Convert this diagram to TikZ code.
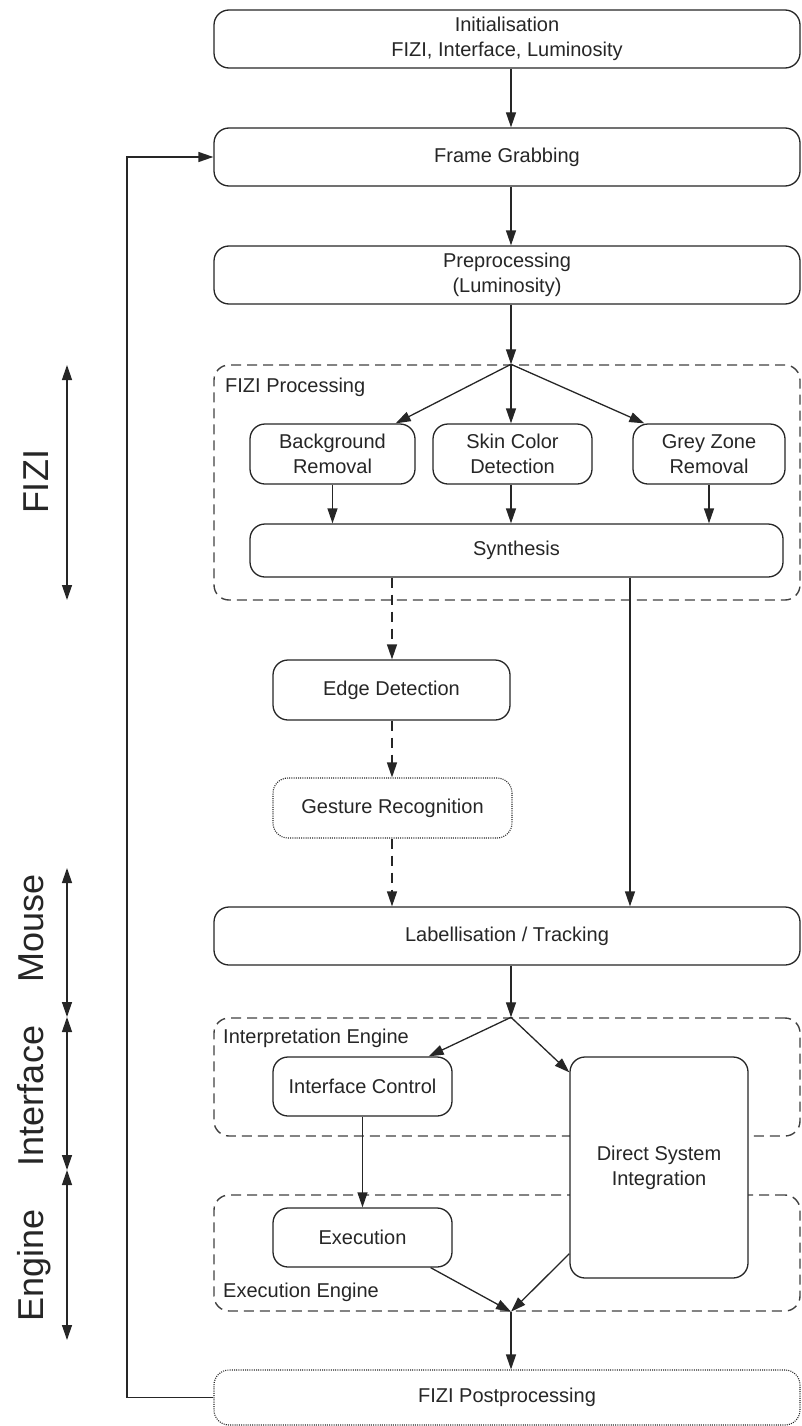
\documentclass[tikz,border=0pt]{standalone}
\usepackage{fontspec}
\setmainfont{Liberation Sans}
\usetikzlibrary{arrows.meta,calc}
\definecolor{ln}{HTML}{262626}
\definecolor{gl}{HTML}{404040}
\definecolor{txt}{HTML}{262626}
\begin{document}
\begin{tikzpicture}[x=1pt,y=-1pt,
  box/.style={draw=ln, fill=white, line width=1.3pt, rounded corners=15pt, inner sep=0pt, align=center, text=txt, font=\fontsize{20}{25}\selectfont},
  grp/.style={draw=gl, line width=1.4pt, dash pattern=on 10pt off 6pt, rounded corners=15pt, inner sep=0pt},
  dotbox/.style={box, line width=1.1pt, dash pattern=on 1pt off 1.2pt},
  arr/.style={draw=ln, line width=1.3pt, -{Triangle[length=15pt,width=10pt]}},
  darr/.style={arr, dash pattern=on 10pt off 7pt},
  dbl/.style={draw=ln, line width=1.3pt, {Triangle[length=15pt,width=10pt]}-{Triangle[length=15pt,width=10pt]}},
  lbl/.style={font=\fontsize{20}{24}\selectfont, text=txt, anchor=base west, inner sep=0pt},
  side/.style={font=\fontsize{36}{40}\selectfont, text=txt, rotate=90, anchor=base, inner sep=0pt}
]
\useasboundingbox (0,0) rectangle (801,1426);

% groups
\node[grp, minimum width=586pt, minimum height=235pt] (fizi) at (507,482.5) {};
\node[grp, minimum width=586pt, minimum height=118pt] (interp) at (507,1077) {};
\node[grp, minimum width=586pt, minimum height=116pt] (execg) at (507,1253) {};
\node[lbl] (fizilbl) at (225,392) {FIZI Processing};
\node[lbl] (interplbl) at (223,1043) {Interpretation Engine};
\node[lbl] (execlbl) at (223,1297) {Execution Engine};

% boxes
\node[box, minimum width=586pt, minimum height=58pt] (init) at (507,39) {Initialisation\\FIZI, Interface, Luminosity};
\node[box, minimum width=586pt, minimum height=58pt] (frame) at (507,157) {Frame Grabbing};
\node[box, minimum width=586pt, minimum height=58pt] (pre) at (507,275) {Preprocessing\\(Luminosity)};
\node[box, minimum width=165pt, minimum height=60pt] (bg) at (332.5,454) {Background\\Removal};
\node[box, minimum width=159pt, minimum height=60pt] (skin) at (512.5,454) {Skin Color\\Detection};
\node[box, minimum width=152pt, minimum height=60pt] (grey) at (709,454) {Grey Zone\\Removal};
\node[box, minimum width=533pt, minimum height=53pt] (synth) at (516.5,550.5) {Synthesis};
\node[box, minimum width=237pt, minimum height=60pt] (edge) at (391.5,690) {Edge Detection};
\node[dotbox, minimum width=239pt, minimum height=60pt] (gest) at (392.5,808) {Gesture Recognition};
\node[box, minimum width=586pt, minimum height=58pt] (label) at (507,936) {Labellisation / Tracking};
\node[box, minimum width=179pt, minimum height=59pt] (ic) at (362.5,1086.5) {Interface Control};
\node[box, minimum width=178pt, minimum height=221pt] (dsi) at (659,1167.5) {Direct System\\Integration};
\node[box, minimum width=179pt, minimum height=59pt] (exec) at (362.5,1237.5) {Execution};
\node[dotbox, minimum width=586pt, minimum height=55pt] (post) at (507,1397.5) {FIZI Postprocessing};

% column coordinates
\coordinate (cx) at (511,0);
\coordinate (ax) at (392,0);
\coordinate (bx) at (630,0);
\coordinate (lp) at (127,0);

% connectors
\draw[arr] (init.south -| cx) -- (frame.north -| cx);
\draw[arr] (frame.south -| cx) -- (pre.north -| cx);
\draw[arr] (pre.south -| cx) -- (fizi.north -| cx);
\coordinate (fz) at (fizi.north -| cx);
\draw[arr] (fz) -- ($(bg.north east)+(-20,0)$);
\draw[arr] (fz) -- (skin.north -| cx);
\draw[arr] (fz) -- ($(grey.north west)+(12,0)$);
\draw[arr] (bg.south) -- (synth.north -| bg.south);
\draw[arr] (skin.south -| cx) -- (synth.north -| cx);
\draw[arr] (grey.south) -- (synth.north -| grey.south);
\draw[darr] (synth.south -| ax) -- (edge.north -| ax);
\draw[darr] (edge.south -| ax) -- (gest.north -| ax);
\draw[darr] (gest.south -| ax) -- (label.north -| ax);
\draw[arr] (synth.south -| bx) -- (label.north -| bx);
\draw[arr] (label.south -| cx) -- (interp.north -| cx);
\coordinate (iz) at (interp.north -| cx);
\draw[arr] (iz) -- ($(ic.north east)+(-24,0)$);
\draw[arr] (iz) -- ($(dsi.north west)+(0,16)$);
\draw[arr] (ic.south) -- (exec.north);
\coordinate (ez) at (execg.south -| cx);
\draw[arr] ($(exec.south east)+(-22,0)$) -- (ez);
\draw[arr] ($(dsi.south west)+(0,-25)$) -- (ez);
\draw[arr] (ez) -- (post.north -| cx);
\draw[arr] (post.west) -- (post.west -| lp) -- (frame.west -| lp) -- (frame.west);

% side annotations
\coordinate (f1) at (67,365);
\coordinate (f2) at (67,600);
\coordinate (m1) at (67,868);
\coordinate (m2) at (67,1017);
\coordinate (i2) at (67,1170);
\coordinate (e2) at (67,1340);
\draw[dbl] (f1) -- (f2);
\draw[dbl] (m1) -- (m2);
\draw[dbl] (m2) -- (i2);
\draw[dbl] (i2) -- (e2);
\node[side] (sfizi) at (48,482) {FIZI};
\node[side] (smouse) at (43,928) {Mouse};
\node[side] (sinter) at (43,1096) {Interface};
\node[side] (sengine) at (43,1265) {Engine};
\end{tikzpicture}
\end{document}
